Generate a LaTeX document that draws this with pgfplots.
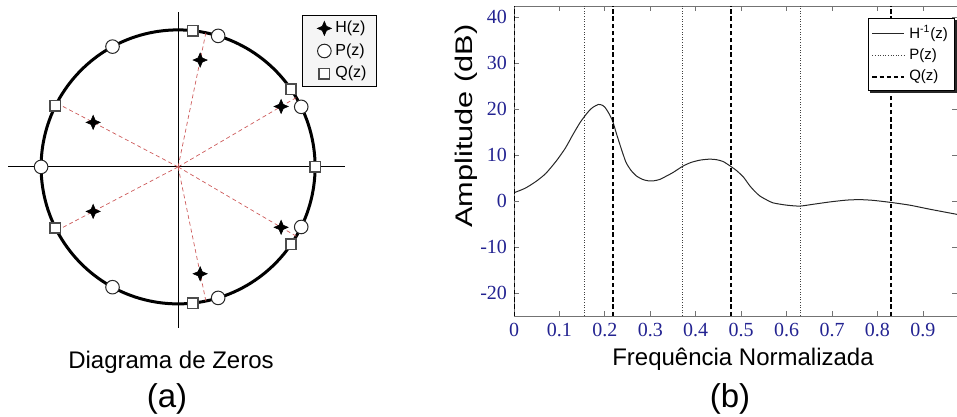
\documentclass[border=0pt]{standalone}
\usepackage{pgfplots}
\pgfplotsset{compat=1.18}
\usepackage{fontspec}
\usepackage{graphicx}
\setmainfont{Liberation Sans}
\newfontfamily\numfont{Liberation Serif}

\definecolor{ticknavy}{RGB}{35,35,145}
\definecolor{zeroline}{RGB}{205,90,90}

% filled four-pointed star used for the zeros of H(z)
\pgfdeclareplotmark{fourstar}{%
  \pgfpathmoveto{\pgfqpoint{0pt}{\pgfplotmarksize}}%
  \pgfpathlineto{\pgfqpoint{0.3\pgfplotmarksize}{0.3\pgfplotmarksize}}%
  \pgfpathlineto{\pgfqpoint{\pgfplotmarksize}{0pt}}%
  \pgfpathlineto{\pgfqpoint{0.3\pgfplotmarksize}{-0.3\pgfplotmarksize}}%
  \pgfpathlineto{\pgfqpoint{0pt}{-\pgfplotmarksize}}%
  \pgfpathlineto{\pgfqpoint{-0.3\pgfplotmarksize}{-0.3\pgfplotmarksize}}%
  \pgfpathlineto{\pgfqpoint{-\pgfplotmarksize}{0pt}}%
  \pgfpathlineto{\pgfqpoint{-0.3\pgfplotmarksize}{0.3\pgfplotmarksize}}%
  \pgfpathclose
  \pgfusepathqfillstroke
}

\begin{document}
\begin{tikzpicture}
\path[use as bounding box] (0pt,-208.5pt) rectangle (478.5pt,0pt);

% ---------------- (a) zero diagram ----------------
\begin{axis}[
  at={(0pt,-172.5pt)}, anchor=south west,
  x=68.5pt, y=68.5pt,
  xmin=-1.3, xmax=1.3, ymin=-1.3, ymax=1.22,
  enlargelimits=false, hide axis, clip=false,
  legend style={at={(0.848,0.957)}, anchor=north west,
    fill=gray!8, draw=black, line width=0.5pt,
    font=\fontsize{8}{9}\selectfont,
    inner xsep=3pt, inner ysep=1pt, row sep=0pt},
  legend cell align=left,
  legend image code/.code={\path (-7.5pt,0pt); \draw[#1] plot coordinates {(0pt,0pt)};},
]
% real and imaginary axes
\addplot[black, line width=0.5pt, forget plot] coordinates {(-1.24,0) (1.22,0)};
\addplot[black, line width=0.5pt, forget plot] coordinates {(0,-1.175) (0,1.13)};
% unit circle
\addplot[black, line width=1.5pt, domain=0:360, samples=181, forget plot]
  ({cos(x)},{sin(x)});
% radial guides through the zeros of H(z)
\addplot[zeroline, line width=0.35pt, dash pattern=on 2pt off 1.5pt, forget plot] coordinates {(0,0) (0.2028,0.9792)};
\addplot[zeroline, line width=0.35pt, dash pattern=on 2pt off 1.5pt, forget plot] coordinates {(0,0) (0.2028,-0.9792)};
\addplot[zeroline, line width=0.35pt, dash pattern=on 2pt off 1.5pt, forget plot] coordinates {(0,0) (0.8625,0.5060)};
\addplot[zeroline, line width=0.35pt, dash pattern=on 2pt off 1.5pt, forget plot] coordinates {(0,0) (0.8625,-0.5060)};
\addplot[zeroline, line width=0.35pt, dash pattern=on 2pt off 1.5pt, forget plot] coordinates {(0,0) (-0.8854,0.4648)};
\addplot[zeroline, line width=0.35pt, dash pattern=on 2pt off 1.5pt, forget plot] coordinates {(0,0) (-0.8854,-0.4648)};
% zeros of H(z)
\addplot[only marks, mark=fourstar, mark size=3.5pt, black, fill=black, line width=0.3pt]
  coordinates {(0.161,0.780) (0.161,-0.780) (0.752,0.441) (0.752,-0.441)
               (-0.620,0.325) (-0.620,-0.325)};
\addlegendentry{H(z)\hspace{5pt}}
% zeros of P(z)
\addplot[only marks, mark=*, mark size=3.4pt, draw=black!85, fill=white, line width=0.5pt]
  coordinates {(0.8988,0.4384) (0.8988,-0.4384) (0.2924,0.9563) (0.2924,-0.9563)
               (-0.4787,0.8780) (-0.4787,-0.8780) (-1,0)};
\addlegendentry{P(z)\hspace{5pt}}
% zeros of Q(z)
\addplot[only marks, mark=square*, mark size=2.6pt, draw=black!70, fill=white, line width=0.8pt]
  coordinates {(1,0) (0.8241,0.5664) (0.8241,-0.5664) (0.1080,0.9942)
               (0.1080,-0.9942) (-0.8949,0.4462) (-0.8949,-0.4462)};
\addlegendentry{Q(z)\hspace{5pt}}
\end{axis}

\node[anchor=base, font=\fontsize{12}{14}\selectfont] at (85.5pt,-184pt) {Diagrama de Zeros};
\node[font=\fontsize{16.5}{18}\selectfont] at (83.5pt,-199.7pt) {(a)};

% ---------------- (b) magnitude response ----------------
\begin{axis}[
  at={(257pt,-158pt)}, anchor=south west,
  width=221.5pt, height=155pt, scale only axis,
  xmin=0, xmax=0.975, ymin=-25, ymax=42.4,
  enlargelimits=false,
  xtick={0,0.1,0.2,0.3,0.4,0.5,0.6,0.7,0.8,0.9},
  xticklabels={0,0.1,0.2,0.3,0.4,0.5,0.6,0.7,0.8,0.9},
  ytick={-20,-10,0,10,20,30,40},
  yticklabels={-20,-10,0,10,20,30,40},
  xticklabel style={font=\fontspec{Liberation Serif}\fontsize{10}{11}\selectfont, text=ticknavy},
  yticklabel style={font=\fontspec{Liberation Serif}\fontsize{10}{11}\selectfont, text=ticknavy},
  major tick length=2.5pt,
  tick style={black!55, line width=0.4pt},
  axis line style={black!55, line width=0.5pt},
  legend style={name=legB, at={(0.799,0.961)}, anchor=north west,
    fill=white, draw=black, line width=0.5pt,
    font=\fontsize{7.5}{8}\selectfont,
    inner xsep=1.5pt, inner ysep=1.5pt, row sep=-0.5pt},
  legend cell align=left,
  legend image code/.code={\draw[#1] plot coordinates {(0pt,0pt) (16pt,0pt)};},
]
% inverse filter response
\addplot[black!85, line width=0.5pt, smooth, tension=0.4] coordinates {
  (0,1.8) (0.025,2.8) (0.049,4.3) (0.07,6.0) (0.093,8.7) (0.113,11.5)
  (0.13,14.5) (0.145,17.0) (0.156,18.5) (0.166,19.7) (0.174,20.4)
  (0.186,21.0) (0.195,20.8) (0.2,20.4) (0.208,19.2) (0.217,17.4)
  (0.225,14.8) (0.233,12.3) (0.24,10.2) (0.247,8.3) (0.258,6.6)
  (0.27,5.4) (0.283,4.7) (0.295,4.4) (0.308,4.4) (0.321,4.7)
  (0.335,5.4) (0.35,6.2) (0.372,7.6) (0.39,8.4) (0.41,8.9) (0.43,9.1)
  (0.445,9.0) (0.46,8.6) (0.476,7.6) (0.49,6.6) (0.505,5.2) (0.519,3.3)
  (0.53,2.1) (0.541,1.1) (0.555,0.3) (0.57,-0.4) (0.6,-0.9) (0.629,-1.1)
  (0.659,-0.7) (0.695,-0.2) (0.732,0.2) (0.761,0.3) (0.79,0.15)
  (0.829,-0.3) (0.871,-0.9) (0.916,-1.8) (0.975,-2.9)};
\addlegendentry{H\textsuperscript{-1}(z)}
% line spectral frequencies of P(z)
\addplot[black!75, line width=0.6pt, dash pattern=on 0.5pt off 0.8pt] coordinates {(0.156,-25) (0.156,42.4)};
\addlegendentry{P(z)}
\addplot[black!75, line width=0.6pt, dash pattern=on 0.5pt off 0.8pt, forget plot] coordinates {(0.371,-25) (0.371,42.4)};
\addplot[black!75, line width=0.6pt, dash pattern=on 0.5pt off 0.8pt, forget plot] coordinates {(0.631,-25) (0.631,42.4)};
% line spectral frequencies of Q(z)
\addplot[black, line width=0.9pt, dash pattern=on 2.2pt off 1.4pt] coordinates {(0.217,-25) (0.217,42.4)};
\addlegendentry{Q(z)}
\addplot[black, line width=0.9pt, dash pattern=on 2.2pt off 1.4pt, forget plot] coordinates {(0,-25) (0,42.4)};
\addplot[black, line width=0.9pt, dash pattern=on 2.2pt off 1.4pt, forget plot] coordinates {(0.477,-25) (0.477,42.4)};
\addplot[black, line width=0.9pt, dash pattern=on 2.2pt off 1.4pt, forget plot] coordinates {(0.829,-25) (0.829,42.4)};
\end{axis}

% shadow edge of the legend box
\draw[black!85, line width=1.1pt]
  ([xshift=0.55pt,yshift=-1.2pt]legB.north east) -- ([xshift=0.55pt,yshift=-0.55pt]legB.south east)
  -- ([xshift=1.2pt,yshift=-0.55pt]legB.south west);

\node[rotate=90, font=\fontsize{12}{14}\selectfont] at (233pt,-63pt) {\scalebox{1.28}[1]{Amplitude (dB)}};
\node[anchor=base, font=\fontsize{12}{14}\selectfont] at (371.5pt,-182.5pt) {Frequência Normalizada};
\node[font=\fontsize{16.5}{18}\selectfont] at (365pt,-199.7pt) {(b)};
\end{tikzpicture}
\end{document}
